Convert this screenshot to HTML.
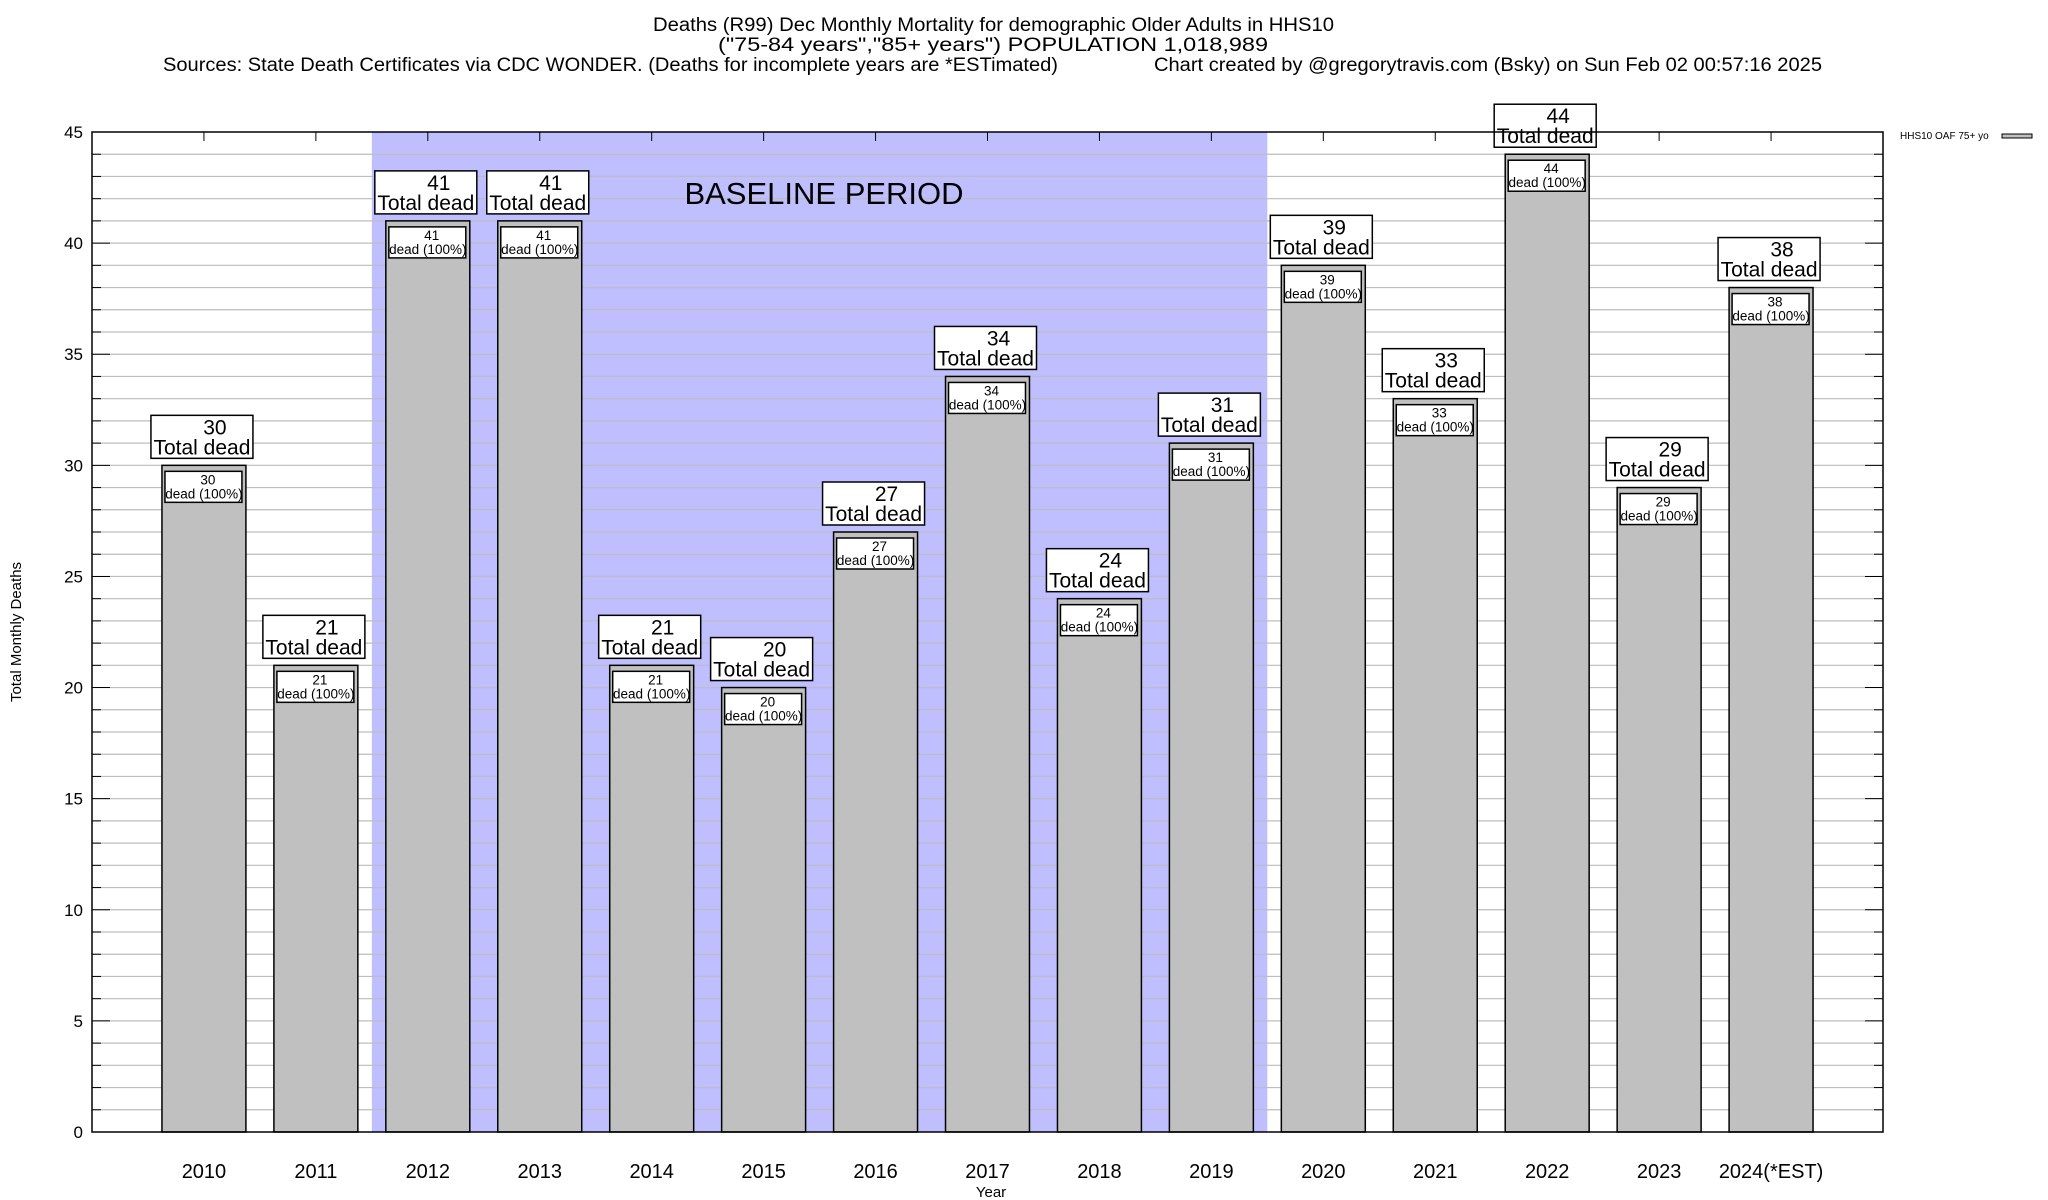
<!DOCTYPE html>
<html><head><meta charset="utf-8"><style>
body{margin:0;background:#fff}
svg{display:block;font-family:"Liberation Sans",Arial,sans-serif}
</style></head><body>
<svg id="chart" width="2048" height="1200" xmlns="http://www.w3.org/2000/svg">
<rect width="2048" height="1200" fill="#fff"/>
<g font-size="19" fill="#000">
<text x="653" y="31" textLength="681" lengthAdjust="spacingAndGlyphs">Deaths (R99) Dec Monthly Mortality for demographic Older Adults in HHS10</text>
<text x="718" y="51" textLength="550" lengthAdjust="spacingAndGlyphs">("75-84 years","85+ years") POPULATION 1,018,989</text>
<text x="163" y="71" textLength="895" lengthAdjust="spacingAndGlyphs">Sources: State Death Certificates via CDC WONDER. (Deaths for incomplete years are *ESTimated)</text>
<text x="1154" y="71" textLength="668" lengthAdjust="spacingAndGlyphs">Chart created by @gregorytravis.com (Bsky) on Sun Feb 02 00:57:16 2025</text>
</g>
<g id="plot"></g>
<g>
<text x="1900" y="139" font-size="10">HHS10 OAF 75+ yo</text>
<rect x="2002" y="134" width="30" height="4" fill="#c0c0c0" stroke="#000" stroke-width="1"/>
</g>
<text transform="translate(21,632) rotate(-90)" text-anchor="middle" font-size="15">Total Monthly Deaths</text>
<text x="991" y="1197" text-anchor="middle" font-size="15">Year</text>
</svg>
<script>
const categories = ["2010","2011","2012","2013","2014","2015","2016","2017","2018","2019","2020","2021","2022","2023","2024(*EST)"];
const deaths = [30,21,41,41,21,20,27,34,24,31,39,33,44,29,38];
const percents = ["100%","100%","100%","100%","100%","100%","100%","100%","100%","100%","100%","100%","100%","100%","100%"];
const yTicks = [0,5,10,15,20,25,30,35,40,45];
const baselineStart = "2012", baselineEnd = "2019";

const L=92,R=1883,T=132,B=1132,YMAX=45;
const step=(R-L)/(categories.length+1);
const xs=i=>L+(i+1)*step;
const ys=v=>B-(v/YMAX)*(B-T);
const NS="http://www.w3.org/2000/svg";
const g=document.getElementById('plot');
function mk(tag,attrs,parent){const e=document.createElementNS(NS,tag);for(const k in attrs)e.setAttribute(k,attrs[k]);(parent||g).appendChild(e);return e;}

const bs=categories.indexOf(baselineStart), be=categories.indexOf(baselineEnd);
let band=mk('rect',{x:xs(bs)-step/2,y:T,width:(be-bs+1)*step,height:B-T,fill:'#bfbfff'});


for(let v=1;v<YMAX;v++){
  let ln=mk('line',{x1:L,x2:R,y1:ys(v),y2:ys(v),stroke:'#bdbdbd','stroke-width':1.2});
  
  
  const len=(v%5===0)?18:9;
  mk('line',{x1:L,x2:L+len,y1:ys(v),y2:ys(v),stroke:'#000','stroke-width':1});
  mk('line',{x1:R-len,x2:R,y1:ys(v),y2:ys(v),stroke:'#000','stroke-width':1});
}
let bl=mk('text',{x:824,y:204,'font-size':31,'text-anchor':'middle'});
bl.textContent='BASELINE PERIOD';


yTicks.forEach(v=>{
  let t=mk('text',{x:83,y:ys(v)+6,'font-size':17,'text-anchor':'end'});
  t.textContent=v;
  
  
});
const bw=step*0.75;
categories.forEach((c,i)=>{
  const cx=xs(i), v=deaths[i], top=ys(v);
  mk('line',{x1:cx,x2:cx,y1:T,y2:T+9,stroke:'#000','stroke-width':1});
  mk('line',{x1:cx,x2:cx,y1:B-9,y2:B,stroke:'#000','stroke-width':1});
  let b=mk('rect',{x:cx-bw/2,y:top,width:bw,height:B-top,fill:'#c0c0c0',stroke:'#000','stroke-width':1.5});
  
  
  let ib=mk('rect',{x:cx-bw/2+3,y:top+6,width:bw-7,height:31,fill:'#fff',stroke:'#000','stroke-width':1.5});
  
  
  let t1=mk('text',{x:cx+4,y:top+19,'font-size':13.5,'text-anchor':'middle'});t1.textContent=v;
  
  
  let t2=mk('text',{x:cx,y:top+33,'font-size':13.5,'text-anchor':'middle'});t2.textContent='dead ('+percents[i]+')';
  
  
  let ob=mk('rect',{x:cx-53,y:top-50,width:102,height:43,fill:'#fff',stroke:'#000','stroke-width':1.5});
  
  
  let t3=mk('text',{x:cx+11,y:top-31,'font-size':21,'text-anchor':'middle'});t3.textContent=v;
  
  
  let t4=mk('text',{x:cx-2,y:top-11,'font-size':21,'text-anchor':'middle'});t4.textContent='Total dead';
  
  
  let xl=mk('text',{x:cx,y:1178,'font-size':20,'text-anchor':'middle'});xl.textContent=c;
  
  
});
let fr=mk('rect',{x:L,y:T,width:R-L,height:B-T,fill:'none',stroke:'#000','stroke-width':1.5});


</script>
</body></html>
